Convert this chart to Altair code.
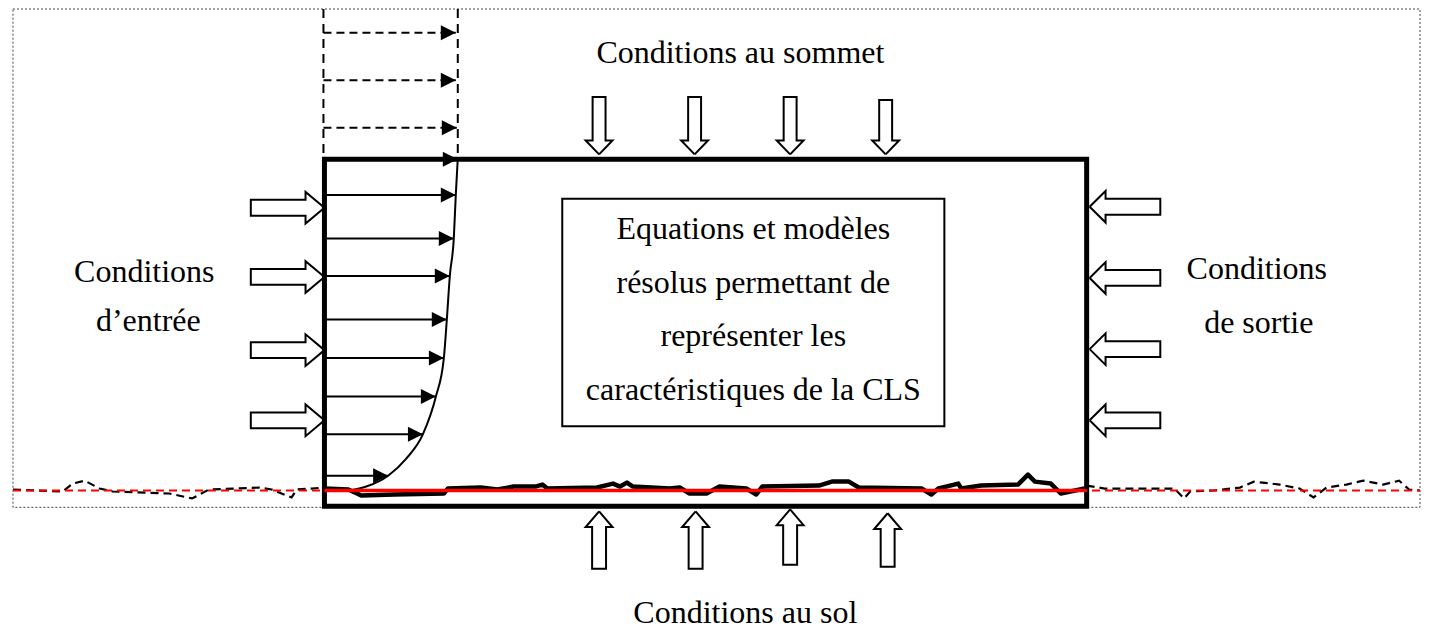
import altair as alt
import pandas as pd

W, H = 1417, 621

# ---------------- texts ----------------
label_text = ["Conditions au sommet", "Conditions au sol",
              "Conditions", "d’entrée",
              "Conditions", "de sortie",
              "Equations et modèles", "résolus permettant de",
              "représenter les", "caractéristiques de la CLS"]
label_x = [741, 746, 142, 146, 1260, 1262, 754, 754, 754, 754]
label_y = [62, 628, 283, 333, 280, 335, 240, 294, 348, 402]

# ---------------- frames ----------------
frame_x = [10, 1424]
frame_y = [7, 511]
box_x = [323, 1089]
box_y = [159, 510]
inner_x = [562, 946]
inner_y = [199, 429]

# dashed guides above the inlet
guide_x = [322, 457]
guide_y = [7, 158]
dash_arrow_y = [31, 79, 127]
dash_arrow_tip = [455, 455, 456]

# inlet velocity profile
profile_y = [159, 195, 239, 277, 321, 360, 399, 437, 479]
profile_tip = [457, 455, 453, 449, 446, 443, 435, 422, 387]
curve_x = [348, 365, 387, 405, 422, 435, 443, 446, 449, 453, 455, 457]
curve_y = [494, 490, 479, 462, 437, 399, 360, 321, 277, 239, 195, 158]

# block arrows
left_arrow_y = [208, 278, 352, 423]
right_arrow_y = [207, 279, 351, 423]
top_arrow_x = [599, 695, 791, 887]
top_arrow_tail = [96, 96, 96, 99]
bottom_arrow_x = [599, 696, 791, 889]
bottom_arrow_tip = [515, 515, 513, 517]
bottom_arrow_tail = [573, 573, 569, 571]

# ground roughness
rough_x = [323, 347, 360, 393, 443, 447, 480, 497, 513, 535, 542, 547, 597, 613, 620, 627, 633,
           670, 680, 690, 707, 720, 747, 757, 763, 820, 833, 850, 860, 923, 933, 940, 960, 963,
           983, 1020, 1030, 1037, 1053, 1063, 1087]
rough_y = [492, 493, 499, 498, 497, 492, 491, 493, 490, 490, 488, 492, 491, 487, 490, 486, 490,
           492, 491, 497, 497, 490, 492, 498, 490, 489, 485, 485, 491, 492, 498, 492, 487, 492,
           489, 488, 478, 485, 487, 497, 492]
left_ground_x = [10, 60, 70, 82, 97, 110, 167, 190, 207, 233, 257, 270, 290, 295, 310, 323]
left_ground_y = [493, 495, 487, 484, 492, 495, 497, 502, 493, 492, 491, 493, 501, 493, 492, 491]
right_ground_x = [1089, 1107, 1177, 1187, 1193, 1217, 1243, 1257, 1283, 1303, 1317, 1330, 1350,
                  1367, 1387, 1403, 1413, 1424]
right_ground_y = [489, 492, 492, 502, 495, 494, 491, 485, 488, 492, 501, 491, 488, 484, 488,
                  484, 493, 494]
ground_level = 494

# ---------------- scales ----------------
xs = alt.Scale(domain=[8, 8 + W], nice=False, zero=False)
ys = alt.Scale(domain=[8, 8 + H], reverse=True, nice=False, zero=False)


def X(f):
    return alt.X(f, type="quantitative", scale=xs, axis=None)


def Y(f):
    return alt.Y(f, type="quantitative", scale=ys, axis=None)


def rect_df(xx, yy):
    return pd.DataFrame({"x": [xx[0]], "x2": [xx[1]], "y": [yy[0]], "y2": [yy[1]]})


def rect_layer(df, width, dash=None, color="black"):
    kw = dict(fill="white", fillOpacity=0, stroke=color, strokeWidth=width)
    if dash:
        kw["strokeDash"] = dash
    return alt.Chart(df).mark_rect(**kw).encode(x=X("x"), x2=alt.X2("x2"), y=Y("y"), y2=alt.Y2("y2"))


def harrow(tip_x, ty, tail_x, head, sw, hw):
    s = 1 if tail_x > tip_x else -1
    b = tip_x + s * head
    return [(tip_x, ty), (b, ty - hw), (b, ty - sw), (tail_x, ty - sw), (tail_x, ty + sw),
            (b, ty + sw), (b, ty + hw), (tip_x, ty)]


def varrow(tx, tip_y, tail_y, head, sw, hw):
    s = 1 if tail_y > tip_y else -1
    b = tip_y + s * head
    return [(tx, tip_y), (tx - hw, b), (tx - sw, b), (tx - sw, tail_y), (tx + sw, tail_y),
            (tx + sw, b), (tx + hw, b), (tx, tip_y)]


polys = []
for y in left_arrow_y:
    polys.append(harrow(323, y, 249, 19, 8, 16))
for y in right_arrow_y:
    polys.append(harrow(1092, y, 1163, 16, 8, 16))
for x, t in zip(top_arrow_x, top_arrow_tail):
    polys.append(varrow(x, 154, t, 14, 6.5, 13.5))
for x, tp, t in zip(bottom_arrow_x, bottom_arrow_tip, bottom_arrow_tail):
    polys.append(varrow(x, tp, t, 16, 7, 13.5))
rows = []
for i, p in enumerate(polys):
    for k, (px, py) in enumerate(p):
        rows.append({"id": i, "k": k, "x": px, "y": py})
block_df = pd.DataFrame(rows)

layers = []
# outer dotted frame
layers.append(rect_layer(rect_df(frame_x, frame_y), 1, dash=[2, 2], color="#444444"))

# dashed guides
guides = pd.DataFrame({"x": guide_x, "y": [guide_y[0]] * 2, "y2": [guide_y[1]] * 2})
layers.append(alt.Chart(guides).mark_rule(color="black", strokeWidth=2, strokeDash=[9, 6])
              .encode(x=X("x"), y=Y("y"), y2=alt.Y2("y2")))
dash_arrows = pd.DataFrame({"x": [guide_x[0]] * 3, "x2": dash_arrow_tip, "y": dash_arrow_y})
layers.append(alt.Chart(dash_arrows).mark_rule(color="black", strokeWidth=2, strokeDash=[8, 5])
              .encode(x=X("x"), x2=alt.X2("x2"), y=Y("y")))

# profile arrows
prof = pd.DataFrame({"x": [324] * len(profile_y), "x2": profile_tip, "y": profile_y})
layers.append(alt.Chart(prof).mark_rule(color="black", strokeWidth=2)
              .encode(x=X("x"), x2=alt.X2("x2"), y=Y("y")))

# arrow heads
heads = pd.DataFrame({"x": dash_arrow_tip + profile_tip, "y": dash_arrow_y + profile_y})
layers.append(alt.Chart(heads).mark_point(shape="M0,0L-1,-0.5L-1,0.5Z", filled=True, size=900,
                                          color="black", opacity=1, strokeWidth=0)
              .encode(x=X("x"), y=Y("y")))

# main box and inner box
layers.append(rect_layer(rect_df(box_x, box_y), 5))
layers.append(rect_layer(rect_df(inner_x, inner_y), 2))

# profile curve
curve = pd.DataFrame({"x": curve_x, "y": curve_y, "k": list(range(len(curve_x)))})
layers.append(alt.Chart(curve).mark_line(color="black", strokeWidth=2, interpolate="monotone")
              .encode(x=X("x"), y=Y("y"), order=alt.Order("k:Q")))

# block arrows
layers.append(alt.Chart(block_df).mark_line(color="black", strokeWidth=2, strokeJoin="miter")
              .encode(x=X("x"), y=Y("y"), detail="id:N", order=alt.Order("k:Q")))

# ground
ground_in = pd.DataFrame({"x": rough_x, "y": rough_y, "k": list(range(len(rough_x)))})
layers.append(alt.Chart(ground_in).mark_line(color="black", strokeWidth=4.5, strokeJoin="round")
              .encode(x=X("x"), y=Y("y"), order=alt.Order("k:Q")))
g_rows = []
for gid, (gx, gy) in enumerate([(left_ground_x, left_ground_y), (right_ground_x, right_ground_y)]):
    for k, (px, py) in enumerate(zip(gx, gy)):
        g_rows.append({"id": gid, "k": k, "x": px, "y": py})
ground_out = pd.DataFrame(g_rows)
layers.append(alt.Chart(ground_out).mark_line(color="black", strokeWidth=2.2, strokeDash=[8, 5])
              .encode(x=X("x"), y=Y("y"), detail="id:N", order=alt.Order("k:Q")))

# red reference line
red_dash = pd.DataFrame({"x": [frame_x[0]], "x2": [frame_x[1]], "y": [ground_level]})
layers.append(alt.Chart(red_dash).mark_rule(color="#ff0000", strokeWidth=2, strokeDash=[8, 5])
              .encode(x=X("x"), x2=alt.X2("x2"), y=Y("y")))
red_solid = pd.DataFrame({"x": [box_x[0]], "x2": [box_x[1]], "y": [ground_level]})
layers.append(alt.Chart(red_solid).mark_rule(color="#ff0000", strokeWidth=3.5)
              .encode(x=X("x"), x2=alt.X2("x2"), y=Y("y")))

# texts
texts = pd.DataFrame({"t": label_text, "x": label_x, "y": label_y})
layers.append(alt.Chart(texts).mark_text(font="Liberation Serif", fontSize=32, color="black",
                                         align="center", baseline="alphabetic")
              .encode(x=X("x"), y=Y("y"), text="t:N"))

chart = alt.layer(*layers).properties(
    width=W, height=H, padding=0,
    autosize=alt.AutoSizeParams(type="fit", contains="padding"),
).configure_view(stroke=None)

chart.save("out.html", embed_options={"renderer": "svg", "actions": False})
